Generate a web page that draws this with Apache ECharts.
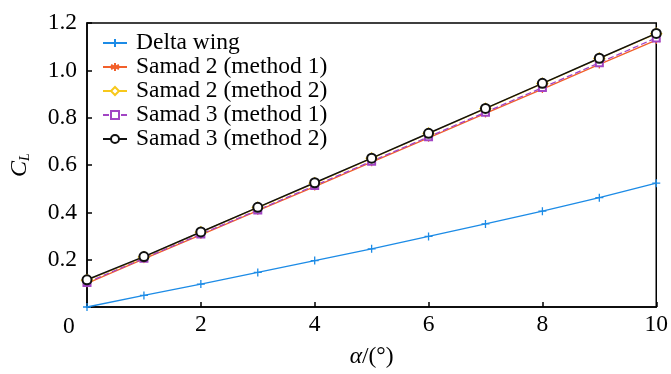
<!DOCTYPE html>
<html><head><meta charset="utf-8">
<script src="https://cdn.jsdelivr.net/npm/echarts@6/dist/echarts.min.js"></script>
<style>html,body{margin:0;padding:0;background:#fff}#c{width:671px;height:374px}</style>
</head><body><div id="c"></div>
<script>
const alpha = [0,1,2,3,4,5,6,7,8,9,10];
const deltaWing = [0,0.049,0.097,0.146,0.196,0.246,0.298,0.351,0.405,0.462,0.523];
const samad2m1 = [0.100,0.203,0.305,0.407,0.509,0.612,0.715,0.818,0.921,1.025,1.128];
const samad2m2 = [0.113,0.211,0.316,0.420,0.523,0.628,0.733,0.838,0.944,1.050,1.155];
const samad3m1 = [0.104,0.206,0.308,0.410,0.513,0.616,0.719,0.823,0.927,1.032,1.137];
const samad3m2 = [0.115,0.213,0.317,0.421,0.525,0.629,0.734,0.839,0.945,1.051,1.156];
const yTicks = [0,0.2,0.4,0.6,0.8,1.0,1.2];
const xTicks = [0,2,4,6,8,10];

const font = 'Liberation Serif, Times New Roman, serif';
const FS = 23.5;
const pairs = a => alpha.map((x,i)=>[x,a[i]]);
const plusPath = 'path://M5,0L5,10M0,5L10,5';
const starPath = 'path://M5,0L5,10M0.7,2.5L9.3,7.5M0.7,7.5L9.3,2.5';

function ser(name, data, color, symbol, size, lineType, width) {
  return {
    name, type:'line', data: pairs(data), symbol, symbolSize: size, showSymbol:true,
    lineStyle:{color, width: width||1.3, type: lineType||'solid'},
    itemStyle:{color: color, borderColor: color, borderWidth: 1.3},
    emphasis:{disabled:true}, animation:false
  };
}

const chart = echarts.init(document.getElementById('c'), null, {renderer:'canvas'});
chart.setOption({
  animation:false,
  grid:{left:87, right:5, top:23, bottom:63, show:true, borderColor:'#000', borderWidth:1.5, backgroundColor:'transparent'},
  legend:{
    left:97, top:26, orient:'vertical', itemWidth:24, itemHeight:10, itemGap:0,
    textStyle:{fontFamily:font, fontSize:FS, color:'#000', lineHeight:23, padding:[0,0,0,4]},
    data:['Delta wing','Samad 2 (method 1)','Samad 2 (method 2)','Samad 3 (method 1)','Samad 3 (method 2)']
  },
  xAxis:{
    type:'value', min:0, max:10, interval:2,
    name:'{a|α}{b|/(°)}', nameLocation:'middle', nameGap:38,
    nameTextStyle:{rich:{a:{fontFamily:font,fontSize:FS,fontStyle:'italic',color:'#000'},b:{fontFamily:font,fontSize:FS,color:'#000'}}},
    axisLine:{lineStyle:{color:'#000',width:1.5}},
    axisTick:{inside:true,length:5,lineStyle:{color:'#000',width:1.5}},
    splitLine:{show:false},
    axisLabel:{fontFamily:font,fontSize:FS,color:'#000',margin:6,
      formatter:v=> v===0 ? '' : String(v)}
  },
  yAxis:{
    type:'value', min:0, max:1.2, interval:0.2,
    name:'{c|C}{l|L}', nameLocation:'middle', nameGap:55, nameRotate:90,
    nameTextStyle:{rich:{c:{fontFamily:font,fontSize:24,fontStyle:'italic',color:'#000'},l:{fontFamily:font,fontSize:14,fontStyle:'italic',color:'#000',verticalAlign:'bottom',padding:[9,0,0,0]}}},
    axisLine:{lineStyle:{color:'#000',width:1.5}},
    axisTick:{inside:true,length:5,lineStyle:{color:'#000',width:1.5}},
    splitLine:{show:false},
    axisLabel:{fontFamily:font,fontSize:FS,color:'#000',margin:10,
      formatter:v=> v===0 ? '' : (v===1 ? '1.0' : String(Math.round(v*10)/10))}
  },
  graphic:[{type:'text', left:63, top:315, style:{text:String(xTicks[0]), font:FS+'px '+font, fill:'#000'}}],
  series:[
    ser('Delta wing', deltaWing, '#1c8be6', plusPath, 8),
    ser('Samad 2 (method 1)', samad2m1, '#f2602b', starPath, 8),
    ser('Samad 2 (method 2)', samad2m2, '#f7c81c', 'emptyDiamond', 10),
    ser('Samad 3 (method 1)', samad3m1, '#a245c4', 'emptyRect', 7, [6,3]),
    ser('Samad 3 (method 2)', samad3m2, '#111', 'emptyCircle', 9, null, 1.5)
  ]
});
</script></body></html>
